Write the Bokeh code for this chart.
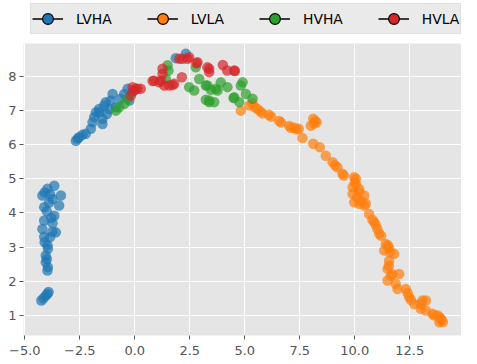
from bokeh.plotting import figure
from bokeh.models import Legend, LegendItem, FixedTicker, ColumnDataSource, CustomJSTickFormatter
from bokeh.layouts import column
from bokeh.embed import file_html
from bokeh.resources import INLINE

# ---- data ----
lvha_x = [-4.25, -4.15, -4.05, -3.97, -3.92, -3.97, -3.95, -4.05, -4.0, -4.05, -3.95, -4.1, -3.97,
          -4.12, -3.85, -3.75, -3.59, -4.2, -3.74, -3.66, -4.12, -3.8, -4.12, -3.44, -3.9, -3.74,
          -4.2, -3.36, -3.97, -3.66, -4.1, -3.85, -4.0,
          -2.68, -2.6, -2.53, -2.38, -2.23, -2.0, -1.92, -1.85, -1.77, -1.62, -1.62, -1.47, -1.47,
          -1.39, -1.32, -1.27, -1.16, -1.09, -1.01, -0.86, -0.64, -0.48, -0.33, -0.25, -0.1,
          1.86, 2.32]
lvha_y = [1.43, 1.5, 1.57, 1.63, 1.68, 2.31, 2.41, 2.55, 2.65, 2.75, 2.95, 3.14, 3.05,
          3.3, 3.29, 3.45, 3.43, 3.53, 3.7, 3.92, 3.78, 3.85, 4.17, 4.22, 4.3, 4.41,
          4.51, 4.51, 4.71, 4.8, 4.6, 4.55, 4.05,
          6.12, 6.18, 6.22, 6.29, 6.32, 6.47, 6.66, 6.81, 6.95, 7.05, 6.95, 6.76, 6.61,
          7.15, 7.25, 6.9, 7.05, 7.3, 7.49, 7.1, 7.35, 7.49, 7.64, 7.3, 7.55,
          8.54, 8.67]

lvla_x = [4.82, 5.2, 5.35, 5.45, 5.58, 5.7, 5.8, 6.1, 6.2, 6.56, 6.65, 7.02, 7.1, 7.25, 7.35,
          7.45, 7.62, 8.0, 8.11, 8.2, 8.26, 8.15, 8.11, 8.41, 8.68, 8.99, 9.1, 9.21, 9.44, 9.5,
          9.97, 10.05, 9.9, 10.05, 10.2, 10.2, 10.43, 9.9, 10.1, 9.97, 10.2, 10.43, 10.3, 10.0,
          10.5, 10.65, 10.8, 10.88, 10.95, 11.03, 11.11, 11.2, 11.41, 11.5, 11.56, 11.34, 11.6,
          11.79, 11.56, 11.49, 11.55, 11.72, 11.64, 12.02, 11.49, 11.86, 11.94, 12.32, 12.4,
          12.47, 12.55, 12.7, 13.0, 13.08, 13.23, 13.0, 13.23, 13.53, 13.6, 13.77, 13.91,
          13.84, 13.95, 14.0, 13.84]
lvla_y = [7.0, 7.15, 7.22, 7.1, 7.05, 6.98, 6.92, 6.88, 6.82, 6.7, 6.65, 6.55, 6.5, 6.5, 6.45,
          6.47, 6.2, 6.56, 6.76, 6.7, 6.66, 6.62, 6.03, 5.93, 5.68, 5.49, 5.4, 5.34, 5.15, 5.1,
          5.05, 5.0, 4.75, 4.85, 4.7, 4.61, 4.51, 4.56, 4.45, 4.31, 4.27, 4.22, 4.35, 4.9,
          4.27, 3.97, 3.8, 3.73, 3.65, 3.53, 3.39, 3.33, 3.09, 3.05, 2.97, 2.9, 2.85,
          2.8, 2.6, 2.36, 2.45, 2.2, 2.16, 2.21, 2.02, 1.92, 1.77, 1.77, 1.65,
          1.53, 1.45, 1.33, 1.33, 1.43, 1.43, 1.19, 1.14, 1.04, 1.0, 0.99, 0.89,
          0.79, 0.85, 0.8, 0.95]

hvha_x = [-0.86, -0.71, -0.48, -0.33, 1.41, 1.49, 1.53, 2.47, 2.7, 2.77, 2.93, 3.23, 3.23,
          3.3, 3.38, 3.38, 3.46, 3.61, 3.68, 3.76, 3.91, 4.21, 4.49, 4.52, 4.75, 4.82, 4.9,
          5.05, 5.35]
hvha_y = [7.0, 7.1, 7.2, 7.35, 7.93, 8.33, 8.18, 7.69, 7.59, 8.27, 7.93, 7.74, 7.32,
          7.74, 7.3, 7.25, 7.61, 7.25, 7.64, 7.59, 7.83, 7.69, 7.37, 7.39, 7.25, 7.74, 7.83,
          7.49, 7.35]

hvla_x = [-0.18, -0.1, 0.05, 0.12, 0.27, -0.05, 0.81, 0.88, 1.11, 1.18, 1.26, 1.26, 1.34,
          1.56, 1.72, 1.79, 2.02, 2.14, 2.17, 2.4, 2.47, 2.8, 2.85, 3.3, 3.38, 3.38, 4.0, 4.2,
          4.52, 4.55]
hvla_y = [7.44, 7.69, 7.64, 7.64, 7.64, 7.58, 7.87, 7.88, 7.83, 7.88, 8.08, 8.23, 7.74,
          7.74, 7.75, 7.79, 8.52, 7.98, 8.52, 8.52, 8.57, 8.39, 8.42, 8.27, 8.13, 8.23, 8.34, 8.18,
          8.18, 8.16]

series_names = ["LVHA", "LVLA", "HVHA", "HVLA"]
series_colors = ["#1f77b4", "#ff7f0e", "#2ca02c", "#d62728"]
series_x = [lvha_x, lvla_x, hvha_x, hvla_x]
series_y = [lvha_y, lvla_y, hvha_y, hvla_y]

x_ticks = [-5.0, -2.5, 0.0, 2.5, 5.0, 7.5, 10.0, 12.5]
x_tick_labels = ["\u22125.0", "\u22122.5", "0.0", "2.5", "5.0", "7.5", "10.0", "12.5"]
y_ticks = [1, 2, 3, 4, 5, 6, 7, 8]
y_tick_labels = ["1", "2", "3", "4", "5", "6", "7", "8"]

LABEL_JS = """
let best = ''; let d = 1e9;
for (let i = 0; i < tk_vals.length; i++) {
  const e = Math.abs(tk_vals[i] - tick);
  if (e < d) { d = e; best = tk_text[i]; }
}
return best;
"""

# ---- main figure ----
p = figure(width=461, height=316, output_backend="svg", toolbar_location=None,
           x_range=(-5.06, 14.85), y_range=(0.405, 8.97),
           min_border_left=23, min_border_right=0, min_border_top=0, min_border_bottom=24)
p.background_fill_color = "#e5e5e5"
p.border_fill_color = "white"
p.outline_line_color = None
p.grid.grid_line_color = "white"
p.grid.grid_line_width = 1

for ax, ticks, labels in ((p.xaxis[0], x_ticks, x_tick_labels),
                          (p.yaxis[0], y_ticks, y_tick_labels)):
    ax.ticker = FixedTicker(ticks=ticks)
    ax.formatter = CustomJSTickFormatter(args=dict(tk_vals=ticks, tk_text=labels), code=LABEL_JS)
    ax.axis_line_color = None
    ax.major_tick_line_color = "#555555"
    ax.major_tick_out = 4
    ax.major_tick_in = 0
    ax.minor_tick_line_color = None
    ax.major_label_text_font = "DejaVu Sans"
    ax.major_label_text_font_size = "13px"
    ax.major_label_text_color = "#555555"
p.xaxis[0].major_label_standoff = 6
p.yaxis[0].major_label_standoff = 3
p.xgrid[0].ticker = FixedTicker(ticks=x_ticks)
p.ygrid[0].ticker = FixedTicker(ticks=y_ticks)

for color, xs, ys in zip(series_colors, series_x, series_y):
    src = ColumnDataSource(dict(x=xs, y=ys))
    p.scatter("x", "y", source=src, size=10.5, fill_color=color, line_color=None,
              fill_alpha=0.7)

# ---- legend strip (separate small figure so the legend sits above the plot) ----
lf = figure(width=461, height=43, output_backend="svg", toolbar_location=None,
            x_range=(0, 1), y_range=(0, 1), x_axis_location=None, y_axis_location=None,
            min_border=0)
lf.grid.visible = False
lf.outline_line_color = None
lf.background_fill_color = "white"
lf.border_fill_color = "white"

items = []
nan = float("nan")
for name, color in zip(series_names, series_colors):
    dummy = ColumnDataSource(dict(x=[nan], y=[nan]))
    lr = lf.line("x", "y", source=dummy, line_color="black", line_width=1.5)
    mr = lf.scatter("x", "y", source=dummy, size=13, fill_color=color, line_color="black",
                    line_width=1.2)
    items.append(LegendItem(label=name, renderers=[lr, mr]))

legend = Legend(items=items, orientation="horizontal", location=(7, 9),
                margin=0, padding=1, spacing=35, glyph_width=31, glyph_height=27,
                label_standoff=13, label_text_font="DejaVu Sans", label_text_font_size="13.9px",
                label_text_color="black", background_fill_color="#eaeaea",
                background_fill_alpha=1.0, border_line_color="#d4d4d4", border_line_width=1)
lf.add_layout(legend, "center")

layout = column(lf, p, spacing=0)
open("out.html", "w").write(file_html(layout, INLINE))
